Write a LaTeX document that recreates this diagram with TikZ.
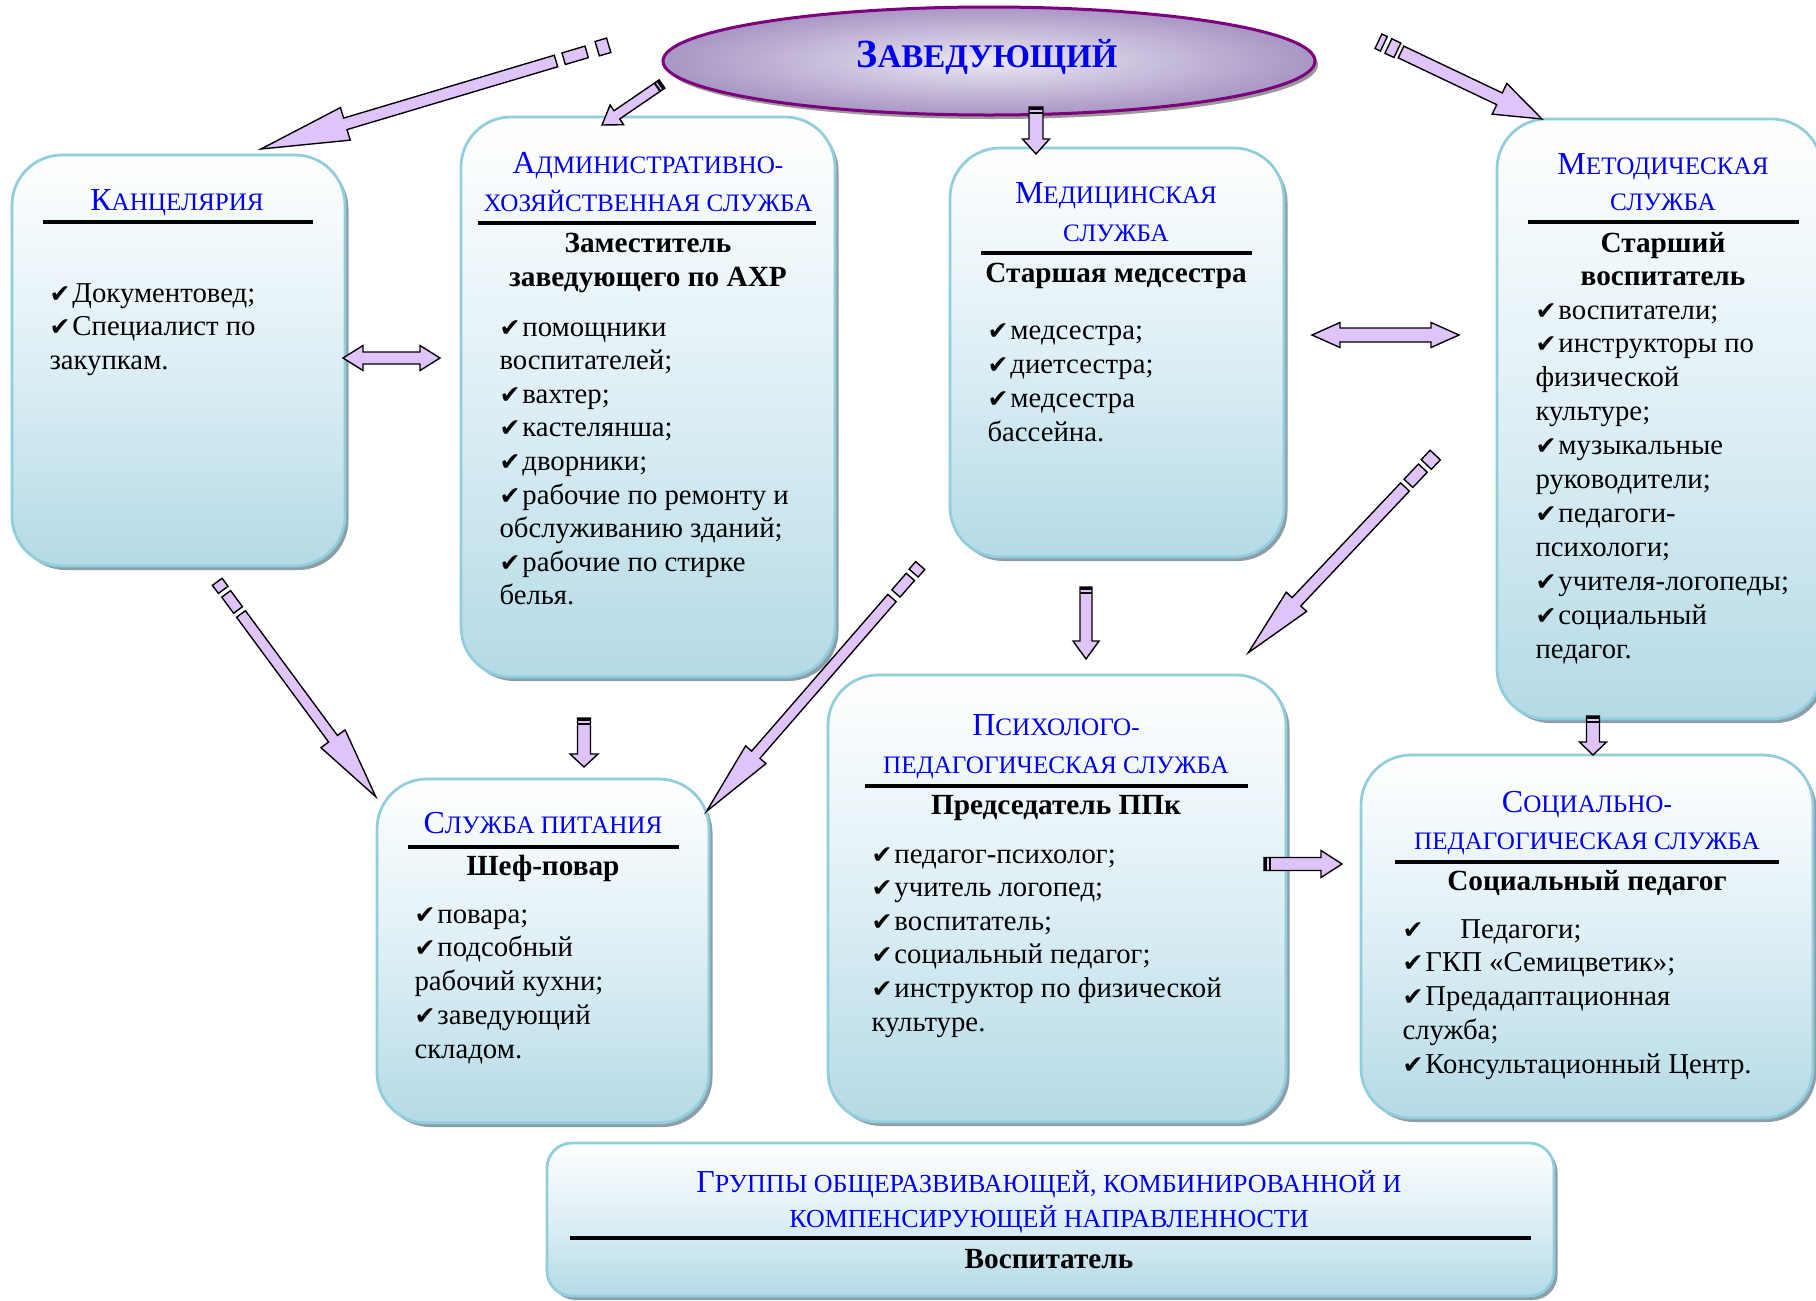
\documentclass[tikz,border=0pt]{standalone}
\usepackage{fontspec}
\setmainfont{Liberation Serif}
\newfontfamily\ckfont{DejaVu Sans}
\usetikzlibrary{shapes.geometric,shadows,fit}

\definecolor{boxborder}{RGB}{146,205,220}
\definecolor{boxbottom}{RGB}{180,218,230}
\definecolor{boxmid}{RGB}{222,239,245}
\definecolor{shadowc}{RGB}{140,158,168}
\definecolor{lilac}{RGB}{222,196,248}
\definecolor{hblue}{RGB}{0,0,235}
\definecolor{ellborder}{RGB}{125,0,125}
\definecolor{ellin}{RGB}{236,232,244}
\definecolor{ellout}{RGB}{168,150,196}

\newcommand\ck{{\ckfont\fontsize{10}{10}\selectfont ✔}\kern0.8pt}
\newcommand\BL[1]{{\fontsize{12.8}{12}\selectfont #1}}

\newcommand\frag[3]{\draw[arr] (#1,-#3) -- (#2,-#3) -- (#2,#3) -- (#1,#3) -- cycle;}
\newcommand\bands[1]{\fill[black] (0,-#1) -- (3,-#1) -- (3,#1) -- (0,#1) -- cycle;
  \fill[black] (4.5,-#1) -- (6.5,-#1) -- (6.5,#1) -- (4.5,#1) -- cycle;}

\newcommand\getdir[2]{%
  \path (#1); \pgfgetlastxy{\ax}{\ay}%
  \path (#2); \pgfgetlastxy{\bx}{\by}%
  \pgfmathsetmacro\aang{atan2((\by)-(\ay),(\bx)-(\ax))}%
  \pgfmathsetmacro\alen{veclen((\bx)-(\ax),(\by)-(\ay))/0.4}}

% block arrow: tail, tip, shaft half width, head half width, head length, extras
\newcommand\barrow[6]{%
  \getdir{#1}{#2}%
  \pgfmathsetmacro\ahead{\alen-#5}%
  \begin{scope}[shift={(#1)},rotate=\aang]
    \draw[arr] (0,-#3) -- (\ahead,-#3) -- (\ahead,-#4) -- (\alen,0) -- (\ahead,#4) -- (\ahead,#3) -- (0,#3) -- cycle;
    #6
  \end{scope}}

% double block arrow
\newcommand\darrow[5]{%
  \getdir{#1}{#2}%
  \pgfmathsetmacro\ahead{\alen-#5}%
  \begin{scope}[shift={(#1)},rotate=\aang]
    \draw[arr] (0,0) -- (#5,-#4) -- (#5,-#3) -- (\ahead,-#3) -- (\ahead,-#4) -- (\alen,0) -- (\ahead,#4) -- (\ahead,#3) -- (#5,#3) -- (#5,#4) -- cycle;
  \end{scope}}

\newcommand\itemlist[5]{\foreach \t [count=\i] in {#5} {\pgfmathsetmacro\yy{#3+(\i-1)*#4}\node[itm] (#1\i) at (#2,\yy) {\t};}}

\tikzset{
  box/.style={draw=boxborder, line width=1.1pt, rounded corners=20pt, inner sep=0pt,
    top color=white, bottom color=boxbottom, middle color=boxmid,
    drop shadow={shadow xshift=1.4pt, shadow yshift=-1.6pt, fill=shadowc, opacity=1}},
  ell/.style={ellipse, draw=ellborder, line width=1.2pt, inner sep=0pt,
    minimum width=260.8pt, minimum height=43.2pt, inner color=ellin, outer color=ellout,
    drop shadow={shadow xshift=1.2pt, shadow yshift=-1.6pt, fill=gray!80, opacity=1}},
  hdr/.style={text=hblue, font=\fontsize{10.05}{12}\selectfont, inner sep=0pt, anchor=base},
  bld/.style={font=\bfseries\fontsize{11.7}{13}\selectfont, inner sep=0pt, anchor=base},
  itm/.style={font=\fontsize{11.5}{13}\selectfont, inner sep=0pt, anchor=base west},
  arr/.style={draw=black, line width=0.55pt, fill=lilac, line join=miter},
  hrule/.style={line width=1.4pt}
}

\begin{document}
\begin{tikzpicture}[x=0.4pt, y=-0.4pt]
\useasboundingbox (0,0) rectangle (1816,1301);
\fill[white] (0,0) rectangle (1816,1301);
\clip (0,0) rectangle (1816,1301);

% boxes
\node[box, fit={(12,155) (345,566)}] (kanc) {};
\node[box, fit={(461,117) (835,677)}] (axs) {};
\node[box, fit={(950,148) (1284,557)}] (med) {};
\node[box, fit={(1497,119) (1822,719)}] (met) {};
\node[box, fit={(377,779) (709,1123)}] (pit) {};
\node[box, fit={(828,675) (1286,1122)}] (pps) {};
\node[box, fit={(1361,755) (1813,1118)}] (sps) {};
\node[box, rounded corners=10pt, fit={(547,1143) (1554,1296)}] (grp) {};

% head ellipse
\node[ell] (zav) at (989,61) {};
\node[font=\bfseries\fontsize{13.2}{14}\selectfont, text=hblue, anchor=base, inner sep=0pt] (zavtxt) at (987,67) {{\fontsize{16}{14}\selectfont З}АВЕДУЮЩИЙ};

% headers
\node[hdr] (kanch) at (177,210) {\BL{К}АНЦЕЛЯРИЯ};
\node[hdr] (axsh1) at (648,173) {\BL{А}ДМИНИСТРАТИВНО-};
\node[hdr] (axsh2) at (648,211) {ХОЗЯЙСТВЕННАЯ СЛУЖБА};
\node[hdr] (medh1) at (1116,203) {\BL{М}ЕДИЦИНСКАЯ};
\node[hdr] (medh2) at (1116,241) {СЛУЖБА};
\node[hdr] (meth1) at (1663,174) {\BL{М}ЕТОДИЧЕСКАЯ};
\node[hdr] (meth2) at (1663,210) {СЛУЖБА};
\node[hdr] (pith) at (543,833) {\BL{С}ЛУЖБА ПИТАНИЯ};
\node[hdr] (ppsh1) at (1056,735) {\BL{П}СИХОЛОГО-};
\node[hdr] (ppsh2) at (1056,773) {ПЕДАГОГИЧЕСКАЯ СЛУЖБА};
\node[hdr] (spsh1) at (1587,812) {\BL{С}ОЦИАЛЬНО-};
\node[hdr] (spsh2) at (1587,849) {ПЕДАГОГИЧЕСКАЯ СЛУЖБА};
\node[hdr, font=\fontsize{10.4}{12}\selectfont] (grph1) at (1049,1192) {\BL{Г}РУППЫ ОБЩЕРАЗВИВАЮЩЕЙ, КОМБИНИРОВАННОЙ И};
\node[hdr, font=\fontsize{10.4}{12}\selectfont] (grph2) at (1049,1227) {КОМПЕНСИРУЮЩЕЙ НАПРАВЛЕННОСТИ};

% rules
\draw[hrule] (43,222) -- (313,222);
\draw[hrule] (478,223) -- (816,223);
\draw[hrule] (981,253) -- (1252,253);
\draw[hrule] (1528,222) -- (1799,222);
\draw[hrule] (408,847) -- (679,847);
\draw[hrule] (865,786) -- (1248,786);
\draw[hrule] (1395,862) -- (1779,862);
\draw[hrule] (570,1238) -- (1531,1238);

% bold sub-headers
\node[bld] (axsb1) at (648,252) {Заместитель};
\node[bld] (axsb2) at (648,286) {заведующего по АХР};
\node[bld] (medb) at (1116,282) {Старшая медсестра};
\node[bld] (metb1) at (1663,252) {Старший};
\node[bld] (metb2) at (1663,285) {воспитатель};
\node[bld] (pitb) at (543,875) {Шеф-повар};
\node[bld] (ppsb) at (1056,814) {Председатель ППк};
\node[bld] (spsb) at (1587,890) {Социальный педагог};
\node[bld] (grpb) at (1049,1268) {Воспитатель};

% item lists
\itemlist{kl}{49}{302}{33.5}{{\ck Документовед;},{\ck Специалист по},{закупкам.}}
\itemlist{al}{499}{336}{33.6}{{\ck помощники},{воспитателей;},{\ck вахтер;},{\ck кастелянша;},{\ck дворники;},{\ck рабочие по ремонту и},{обслуживанию зданий;},{\ck рабочие по стирке},{белья.}}
\itemlist{ml}{987}{339}{34}{{\ck медсестра;},{\ck диетсестра;},{\ck медсестра},{бассейна.}}
\itemlist{tl}{1535}{319}{33.9}{{\ck воспитатели;},{\ck инструкторы по},{физической},{культуре;},{\ck музыкальные},{руководители;},{\ck педагоги-},{психологи;},{\ck учителя-логопеды;},{\ck социальный},{педагог.}}
\itemlist{pl}{414}{923}{33.75}{{\ck повара;},{\ck подсобный},{рабочий кухни;},{\ck заведующий},{складом.}}
\itemlist{ql}{871}{863}{33.6}{{\ck педагог-психолог;},{\ck учитель логопед;},{\ck воспитатель;},{\ck социальный педагог;},{\ck инструктор по физической},{культуре.}}
\itemlist{sl}{1402}{938}{33.9}{{\ck\hspace{14pt}Педагоги;},{\ck ГКП «Семицветик»;},{\ck Предадаптационная},{служба;},{\ck Консультационный Центр.}}

% arrow end points
\coordinate (a1t) at (556,61);   \coordinate (a1h) at (261,149);
\coordinate (a2t) at (662,84);   \coordinate (a2h) at (602,125);
\coordinate (a3t) at (1036,107); \coordinate (a3h) at (1036,154);
\coordinate (a4t) at (1401,52);  \coordinate (a4h) at (1542,119);
\coordinate (a5t) at (1593,716); \coordinate (a5h) at (1593,755);
\coordinate (a6t) at (241,614);  \coordinate (a6h) at (376,797);
\coordinate (a7t) at (584,718);  \coordinate (a7h) at (584,767);
\coordinate (a8t) at (892,598);  \coordinate (a8h) at (706,812);
\coordinate (a9t) at (1086,587); \coordinate (a9h) at (1086,659);
\coordinate (a10t) at (1405,487); \coordinate (a10h) at (1248,653);
\coordinate (a11t) at (1264,864); \coordinate (a11h) at (1342,864);
\coordinate (d1a) at (343,358);  \coordinate (d1b) at (440,358);
\coordinate (d2a) at (1312,335); \coordinate (d2b) at (1459,335);

% arrows
\barrow{a1t}{a1h}{6}{17}{88}{\frag{-8}{-32}{6}\frag{-43}{-55}{7.5}}
\barrow{a2t}{a2h}{5}{12}{18}{\bands{5}}
\barrow{a3t}{a3h}{7}{13.5}{15}{\bands{7}}
\barrow{a4t}{a4h}{6.5}{17}{47}{\frag{-4}{-14}{8}\frag{-19}{-25}{8}}
\barrow{a5t}{a5h}{6.5}{13.5}{13}{\bands{6.5}}
\barrow{a6t}{a6h}{5.5}{15}{72}{\frag{-5}{-25}{5.5}\frag{-30}{-40}{6}}
\barrow{a7t}{a7h}{6.5}{14}{13}{\bands{6.5}}
\barrow{a8t}{a8h}{5.5}{13.5}{75}{\frag{-6}{-28}{5.5}\frag{-33}{-43}{6}}
\barrow{a9t}{a9h}{6}{13}{18}{\bands{6}}
\barrow{a10t}{a10h}{6}{14}{70}{\frag{-5}{-26}{6}\frag{-31}{-44}{7}}
\barrow{a11t}{a11h}{6.5}{13.5}{21}{\bands{6.5}}
\darrow{d1a}{d1b}{6}{12.5}{20}
\darrow{d2a}{d2b}{7}{12.5}{28}

\end{tikzpicture}
\end{document}
